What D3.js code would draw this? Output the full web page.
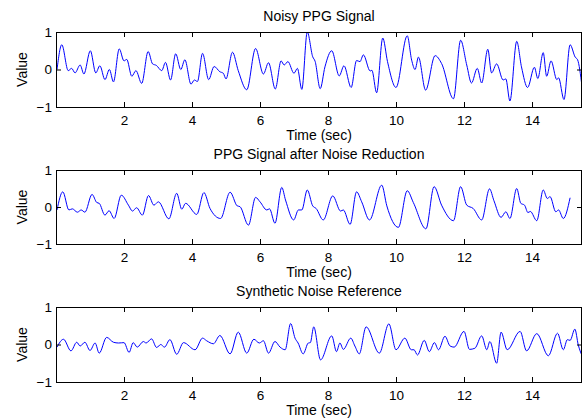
<!DOCTYPE html>
<html>
<head>
<meta charset="utf-8">
<script src="https://cdn.jsdelivr.net/npm/d3@7"></script>
<style>
  body { margin: 0; background: #fff; }
  svg { display: block; font-family: "Liberation Sans", Arial, sans-serif; }
  .tick text { font-size: 13.5px; fill: #000; }
  .tick line { stroke: #000; }
  .label, .title { font-size: 14px; fill: #000; }
  .line { fill: none; stroke: #0000ff; stroke-width: 1; }
</style>
</head>
<body>
<div id="chart"></div>
<script>
// Values (local extrema and shoulders)
const noisyTime = [0.03, 0.17, 0.36, 0.46, 0.56, 0.71, 0.82, 1.01, 1.17, 1.29, 1.44, 1.57, 1.69, 1.86, 2.0, 2.08, 2.23, 2.35, 2.52, 2.71, 2.84, 2.95, 3.11, 3.22, 3.37, 3.52, 3.67, 3.79, 3.97, 4.07, 4.16, 4.31, 4.49, 4.65, 4.82, 4.92, 5.0, 5.19, 5.36, 5.61, 5.87, 6.1, 6.25, 6.45, 6.62, 6.71, 6.82, 7.0, 7.1, 7.23, 7.39, 7.55, 7.62, 7.77, 7.91, 8.11, 8.33, 8.47, 8.68, 8.84, 8.94, 9.04, 9.24, 9.29, 9.43, 9.61, 9.75, 10.0, 10.33, 10.46, 10.56, 10.66, 10.87, 11.15, 11.34, 11.69, 11.9, 12.08, 12.22, 12.39, 12.52, 12.7, 12.81, 12.96, 13.15, 13.23, 13.35, 13.55, 13.69, 13.87, 14.07, 14.17, 14.33, 14.43, 14.56, 14.73, 14.78, 14.94, 15.12, 15.27, 15.34, 15.47]
const noisyValue = [0.0, 0.66, -0.03, 0.03, -0.09, 0.12, -0.12, 0.5, -0.09, 0.1, -0.27, 0.0, -0.33, 0.55, 0.23, 0.27, -0.18, -0.03, -0.37, 0.48, 0.15, 0.11, -0.03, 0.19, -0.28, 0.42, 0.0, 0.26, -0.39, -0.28, -0.32, 0.43, -0.27, 0.08, -0.06, -0.1, -0.25, 0.46, -0.03, -0.54, 0.56, -0.12, 0.18, -0.52, 0.23, 0.12, 0.21, -0.1, 0.03, -0.53, 1.0, 0.34, 0.22, -0.51, 0.07, 0.5, -0.17, 0.1, -0.48, 0.24, 0.21, 0.39, -0.04, -0.02, -0.62, 0.84, 0.21, -0.48, 0.9, 0.25, 0.0, 0.33, -0.55, 0.37, 0.16, -0.78, 0.78, 0.12, -0.36, 0.03, -0.36, 0.54, -0.09, 0.15, -0.28, -0.25, -0.84, 0.75, 0.07, -0.48, 0.06, -0.24, 0.45, -0.18, 0.23, -0.27, -0.22, -0.8, 0.66, 0.33, 0.26, -0.45]

const cleanTime = [0.03, 0.2, 0.38, 0.48, 0.63, 0.74, 0.85, 1.06, 1.2, 1.27, 1.44, 1.56, 1.71, 1.92, 2.13, 2.25, 2.37, 2.54, 2.72, 2.88, 3.01, 3.32, 3.55, 3.7, 3.81, 4.14, 4.35, 4.53, 4.84, 5.12, 5.33, 5.41, 5.66, 5.87, 6.0, 6.2, 6.28, 6.44, 6.64, 6.75, 6.99, 7.13, 7.23, 7.39, 7.55, 7.65, 7.86, 8.14, 8.37, 8.45, 8.65, 8.84, 8.99, 9.22, 9.58, 9.73, 10.07, 10.33, 10.51, 10.88, 11.12, 11.34, 11.69, 11.9, 12.08, 12.27, 12.52, 12.75, 12.88, 13.09, 13.23, 13.35, 13.55, 13.67, 13.78, 13.88, 13.95, 14.14, 14.33, 14.45, 14.53, 14.7, 14.78, 14.92, 15.12]
const cleanValue = [-0.08, 0.41, -0.08, -0.05, -0.14, -0.08, -0.14, 0.34, 0.12, 0.1, -0.22, -0.1, -0.31, 0.32, 0.05, -0.11, -0.02, -0.22, 0.31, 0.05, 0.14, -0.32, 0.37, -0.06, 0.1, -0.2, 0.39, -0.04, -0.31, 0.4, 0.03, 0.01, -0.49, 0.26, 0.14, -0.08, -0.05, -0.44, 0.53, 0.19, -0.35, -0.08, -0.08, 0.46, 0.03, -0.04, -0.35, 0.3, -0.11, -0.08, -0.47, 0.41, 0.14, -0.35, 0.59, 0.03, -0.55, 0.44, 0.12, -0.59, 0.55, 0.05, -0.37, 0.55, 0.05, -0.04, -0.35, 0.49, 0.17, -0.28, -0.13, -0.31, 0.5, 0.1, 0.05, -0.15, -0.12, -0.37, 0.46, 0.23, 0.28, -0.13, -0.08, -0.31, 0.25]

const noiseTime = [0.03, 0.22, 0.44, 0.61, 0.71, 0.85, 1.0, 1.15, 1.27, 1.49, 1.69, 1.84, 2.0, 2.15, 2.27, 2.39, 2.57, 2.65, 2.81, 2.96, 3.08, 3.19, 3.35, 3.55, 3.75, 4.09, 4.31, 4.43, 4.63, 4.82, 5.12, 5.36, 5.61, 5.82, 5.98, 6.1, 6.25, 6.44, 6.59, 6.74, 6.9, 7.03, 7.12, 7.27, 7.42, 7.48, 7.58, 7.78, 8.11, 8.25, 8.35, 8.45, 8.67, 8.79, 8.92, 9.12, 9.51, 9.79, 10.0, 10.26, 10.45, 10.53, 10.63, 10.83, 10.98, 11.13, 11.25, 11.44, 11.59, 11.71, 12.0, 12.16, 12.32, 12.52, 12.67, 12.76, 12.96, 13.09, 13.27, 13.65, 13.84, 14.14, 14.48, 14.75, 14.92, 15.04, 15.12, 15.26, 15.36, 15.47]
const noiseValue = [-0.07, 0.14, -0.17, 0.06, -0.04, 0.06, -0.16, 0.04, -0.23, 0.19, 0.06, 0.04, 0.05, -0.21, 0.05, -0.07, 0.08, 0.04, 0.15, -0.08, 0.0, -0.07, 0.13, -0.26, 0.05, -0.14, 0.17, 0.1, 0.02, 0.24, -0.25, 0.33, -0.23, 0.14, 0.04, 0.1, -0.23, 0.08, -0.07, -0.14, 0.56, 0.17, 0.04, -0.25, 0.04, 0.05, 0.47, -0.41, 0.23, -0.19, 0.04, -0.13, 0.17, -0.04, -0.25, 0.47, -0.23, 0.55, -0.14, 0.17, -0.14, -0.14, -0.28, 0.11, -0.19, 0.05, -0.14, 0.22, -0.04, -0.07, 0.35, -0.13, -0.1, 0.23, -0.14, 0.08, -0.5, 0.33, -0.14, 0.35, -0.17, 0.29, -0.3, 0.3, -0.14, 0.13, 0.11, 0.41, -0.01, -0.3]

const panelTitles = ['Noisy PPG Signal', 'PPG Signal after Noise Reduction', 'Synthetic Noise Reference']
const xTicks = [2, 4, 6, 8, 10, 12, 14]
const yTicks = [-1, 0, 1]
const xDomain = [0, 15.47]
const yDomain = [-1, 1]

const width = 583
const height = 419
const left = 56
const right = 582
const panels = [
  { top: 32, bottom: 107, time: noisyTime, value: noisyValue },
  { top: 170, bottom: 244, time: cleanTime, value: cleanValue },
  { top: 307, bottom: 382, time: noiseTime, value: noiseValue }
]
const tickLen = 5

const svg = d3.select('#chart')
  .append('svg')
  .attr('width', width)
  .attr('height', height)
  .attr('viewBox', [0, 0, width, height])

const x = d3.scaleLinear().domain(xDomain).range([left, right])

const fmt = d => d < 0 ? '\u2212' + Math.abs(d) : String(d)

panels.forEach((p, i) => {
  const y = d3.scaleLinear().domain(yDomain).range([p.bottom, p.top])
  const data = p.time.map((t, j) => [t, p.value[j]])

  const g = svg.append('g').attr('class', 'panel')

  g.append('clipPath')
    .attr('id', 'clip' + i)
    .append('rect')
    .attr('x', left).attr('y', p.top)
    .attr('width', right - left).attr('height', p.bottom - p.top)

  const line = d3.line()
    .x(d => x(d[0]))
    .y(d => y(d[1]))
    .curve(d3.curveMonotoneX)

  g.append('path')
    .datum(data)
    .attr('class', 'line')
    .attr('clip-path', `url(#clip${i})`)
    .attr('d', line)

  // bottom axis with labels, ticks pointing inward
  g.append('g')
    .attr('transform', `translate(0, ${p.bottom})`)
    .call(d3.axisBottom(x).tickValues(xTicks).tickSizeInner(-tickLen).tickSizeOuter(0).tickPadding(8).tickFormat(fmt))
    .call(a => a.select('.domain').remove())

  // top axis, ticks only
  g.append('g')
    .attr('transform', `translate(0, ${p.top})`)
    .call(d3.axisTop(x).tickValues(xTicks).tickSizeInner(-tickLen).tickSizeOuter(0).tickFormat(''))
    .call(a => a.select('.domain').remove())

  // left axis with labels
  g.append('g')
    .attr('transform', `translate(${left}, 0)`)
    .call(d3.axisLeft(y).tickValues(yTicks).tickSizeInner(-tickLen).tickSizeOuter(0).tickPadding(4).tickFormat(fmt))
    .call(a => a.select('.domain').remove())

  // right axis, ticks only
  g.append('g')
    .attr('transform', `translate(${right}, 0)`)
    .call(d3.axisRight(y).tickValues(yTicks).tickSizeInner(-tickLen).tickSizeOuter(0).tickFormat(''))
    .call(a => a.select('.domain').remove())

  // axes box
  g.append('rect')
    .attr('x', left + 0.5).attr('y', p.top + 0.5)
    .attr('width', right - left - 1).attr('height', p.bottom - p.top)
    .attr('fill', 'none')
    .attr('stroke', '#000')
    .attr('stroke-width', 1)

  g.append('text')
    .attr('class', 'title')
    .attr('x', (left + right) / 2)
    .attr('y', p.top - 11)
    .attr('text-anchor', 'middle')
    .text(panelTitles[i])

  g.append('text')
    .attr('class', 'label')
    .attr('x', (left + right) / 2)
    .attr('y', p.bottom + 33)
    .attr('text-anchor', 'middle')
    .text('Time (sec)')

  g.append('text')
    .attr('class', 'label')
    .attr('transform', `translate(27, ${(p.top + p.bottom) / 2}) rotate(-90)`)
    .attr('text-anchor', 'middle')
    .text('Value')
})
</script>
</body>
</html>
